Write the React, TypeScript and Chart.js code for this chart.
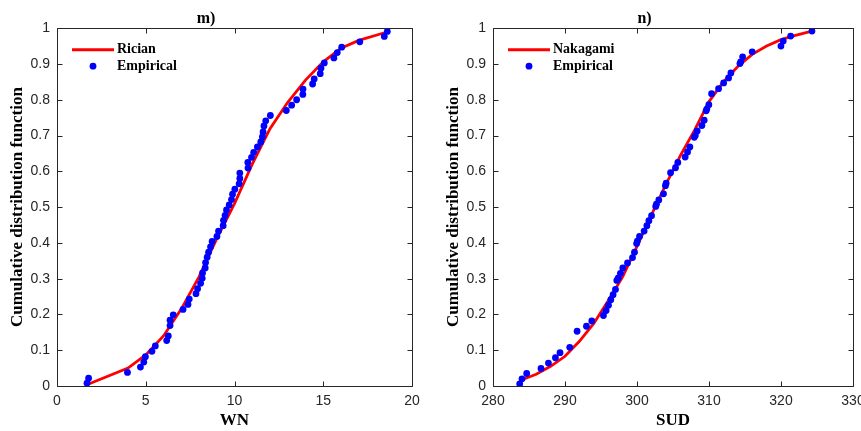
import React, { useEffect, useRef } from "react";
import { Chart, registerables } from "chart.js";
Chart.register(...registerables);

// ---- Panel m) : WN, Rician fit ----
const wnEmpX = [1.69, 1.78, 3.97, 4.70, 4.89, 4.98, 5.35, 5.54, 6.18, 6.27, 6.37, 6.37, 6.55, 7.10, 7.38, 7.45, 7.83, 7.92, 8.09, 8.18, 8.20, 8.35, 8.37, 8.46, 8.54, 8.65, 8.74, 9.01, 9.10, 9.36, 9.38, 9.47, 9.55, 9.70, 9.83, 9.89, 10.02, 10.26, 10.30, 10.30, 10.76, 10.75, 10.96, 11.08, 11.29, 11.48, 11.57, 11.61, 11.66, 11.76, 12.02, 12.92, 13.22, 13.50, 13.85, 13.86, 14.40, 14.49, 14.83, 14.87, 15.06, 15.60, 15.79, 16.04, 17.06, 18.44, 18.61];
const wnEmpY = [0.008, 0.022, 0.038, 0.053, 0.067, 0.082, 0.097, 0.112, 0.127, 0.140, 0.169, 0.184, 0.199, 0.214, 0.228, 0.243, 0.258, 0.272, 0.287, 0.301, 0.316, 0.330, 0.345, 0.360, 0.374, 0.389, 0.404, 0.418, 0.433, 0.448, 0.463, 0.477, 0.492, 0.506, 0.521, 0.536, 0.550, 0.565, 0.580, 0.595, 0.609, 0.625, 0.639, 0.653, 0.668, 0.682, 0.696, 0.710, 0.727, 0.741, 0.756, 0.770, 0.785, 0.800, 0.815, 0.830, 0.844, 0.858, 0.873, 0.888, 0.903, 0.917, 0.932, 0.947, 0.962, 0.977, 0.991];
const ricianX = [1.75, 4.0, 5.0, 6.0, 7.0, 8.0, 9.0, 10.0, 11.0, 12.0, 13.0, 14.0, 15.0, 16.0, 17.0, 18.5];
const ricianY = [0.005, 0.05, 0.087, 0.14, 0.215, 0.305, 0.412, 0.51, 0.62, 0.719, 0.793, 0.855, 0.906, 0.944, 0.966, 0.988];

// ---- Panel n) : SUD, Nakagami fit ----
const sudEmpX = [283.71, 284.03, 284.68, 286.67, 287.70, 288.67, 289.31, 290.66, 291.68, 292.98, 293.72, 295.34, 295.71, 296.04, 296.36, 296.68, 297.01, 297.20, 297.40, 297.70, 298.03, 298.68, 299.38, 299.65, 299.95, 300.05, 300.35, 300.99, 301.37, 301.65, 302.02, 302.60, 302.70, 303.03, 303.68, 303.95, 304.05, 304.66, 305.35, 305.67, 306.69, 307.02, 307.34, 307.95, 308.10, 308.36, 309.01, 309.33, 309.60, 309.70, 309.98, 310.36, 311.33, 312.03, 312.72, 313.04, 314.30, 314.40, 314.67, 316.00, 319.99, 320.31, 321.34, 324.30];
const sudEmpY = [0.006, 0.020, 0.035, 0.049, 0.064, 0.079, 0.093, 0.108, 0.153, 0.167, 0.182, 0.197, 0.211, 0.226, 0.241, 0.255, 0.270, 0.295, 0.302, 0.315, 0.330, 0.344, 0.359, 0.374, 0.398, 0.405, 0.418, 0.433, 0.448, 0.462, 0.476, 0.502, 0.508, 0.520, 0.537, 0.560, 0.567, 0.596, 0.610, 0.625, 0.640, 0.654, 0.668, 0.695, 0.700, 0.713, 0.728, 0.743, 0.769, 0.774, 0.786, 0.817, 0.831, 0.847, 0.861, 0.875, 0.901, 0.906, 0.920, 0.934, 0.950, 0.964, 0.978, 0.992];
const nakX = [284.1, 286, 288, 290, 292, 294, 296, 298, 300, 302, 304, 306, 308, 310, 312, 314, 316, 318, 320, 322, 324.3];
const nakY = [0.018, 0.033, 0.055, 0.083, 0.125, 0.175, 0.238, 0.305, 0.39, 0.478, 0.563, 0.643, 0.715, 0.795, 0.85, 0.893, 0.927, 0.95, 0.968, 0.98, 0.992];

const yTickLabels = ["0", "0.1", "0.2", "0.3", "0.4", "0.5", "0.6", "0.7", "0.8", "0.9", "1"];

const AXIS_COLOR = "#262626";
const SERIF = "'Liberation Serif', 'Times New Roman', serif";
const SANS = "'Liberation Sans', Arial, sans-serif";

const toPts = (xs: number[], ys: number[]) => xs.map((x, i) => ({ x, y: ys[i] }));

const boxPlugin = {
  id: "matlabBox",
  afterDatasetsDraw(chart: any) {
    const { ctx, chartArea: a, scales } = chart;
    const tl = 5;
    ctx.save();
    ctx.strokeStyle = AXIS_COLOR;
    ctx.lineWidth = 1;
    ctx.beginPath();
    const L = Math.round(a.left) + 0.5, R = Math.round(a.right) + 0.5;
    const T = Math.round(a.top) + 0.5, B = Math.round(a.bottom) + 0.5;
    ctx.rect(L, T, R - L, B - T);
    scales.x.ticks.forEach((_t: any, i: number) => {
      const px = Math.round(scales.x.getPixelForTick(i)) + 0.5;
      ctx.moveTo(px, B); ctx.lineTo(px, B - tl);
      ctx.moveTo(px, T); ctx.lineTo(px, T + tl);
    });
    scales.y.ticks.forEach((_t: any, i: number) => {
      const py = Math.round(scales.y.getPixelForTick(i)) + 0.5;
      ctx.moveTo(L, py); ctx.lineTo(L + tl, py);
      ctx.moveTo(R, py); ctx.lineTo(R - tl, py);
    });
    ctx.stroke();
    ctx.restore();
  },
};

const legendPlugin = {
  id: "insideLegend",
  afterDraw(chart: any) {
    const { ctx, chartArea: a } = chart;
    const ds = chart.data.datasets;
    const lineDs = ds[1];
    const dotDs = ds[0];
    ctx.save();
    const y1 = a.top + 21.5;
    const y2 = a.top + 38;
    ctx.strokeStyle = lineDs.borderColor;
    ctx.lineWidth = 3;
    ctx.beginPath();
    ctx.moveTo(a.left + 15, y1);
    ctx.lineTo(a.left + 57, y1);
    ctx.stroke();
    ctx.fillStyle = dotDs.backgroundColor;
    ctx.beginPath();
    ctx.arc(a.left + 36, y2, 3.4, 0, Math.PI * 2);
    ctx.fill();
    ctx.fillStyle = "#000";
    ctx.font = `bold 14px ${SERIF}`;
    ctx.textBaseline = "middle";
    ctx.textAlign = "left";
    ctx.fillText(lineDs.label, a.left + 60, y1);
    ctx.fillText(dotDs.label, a.left + 60, y2);
    ctx.restore();
  },
};

function makeConfig(
  title: string,
  xTitle: string,
  xMin: number,
  xMax: number,
  xStep: number,
  fitLabel: string,
  fitPts: any[],
  empPts: any[],
  padRight: number
): any {
  return {
    type: "scatter",
    data: {
      datasets: [
        {
          label: "Empirical",
          data: empPts,
          showLine: false,
          pointRadius: 3.4,
          pointHoverRadius: 3.4,
          backgroundColor: "#0000ff",
          borderColor: "#0000ff",
          borderWidth: 0,
        },
        {
          label: fitLabel,
          data: fitPts,
          showLine: true,
          pointRadius: 0,
          borderColor: "#ff0000",
          backgroundColor: "#ff0000",
          borderWidth: 2.8,
          tension: 0,
        },
      ],
    },
    options: {
      animation: false,
      responsive: false,
      layout: { padding: { left: 0, right: padRight, top: 0, bottom: 0 } },
      plugins: {
        legend: { display: false },
        tooltip: { enabled: false },
        title: {
          display: true,
          text: title,
          color: "#000",
          font: { family: SERIF, size: 16, weight: "bold" },
          padding: { top: 9, bottom: 0 },
        },
      },
      scales: {
        x: {
          type: "linear",
          min: xMin,
          max: xMax,
          grid: { display: false, drawTicks: false },
          border: { display: false },
          ticks: {
            stepSize: xStep,
            padding: 7,
            color: AXIS_COLOR,
            font: { family: SANS, size: 14 },
            maxRotation: 0,
          },
          title: {
            display: true,
            text: xTitle,
            color: "#000",
            font: { family: SERIF, size: 17, weight: "bold" },
            padding: { top: 0, bottom: 0 },
          },
          afterFit: (s: any) => {
            s.height = 45;
          },
        },
        y: {
          type: "linear",
          min: 0,
          max: 1,
          grid: { display: false, drawTicks: false },
          border: { display: false },
          ticks: {
            stepSize: 0.1,
            padding: 7,
            color: AXIS_COLOR,
            font: { family: SANS, size: 14 },
            callback: (_v: any, i: number) => yTickLabels[i],
          },
          title: {
            display: true,
            text: "Cumulative distribution function",
            color: "#000",
            font: { family: SERIF, size: 17, weight: "bold" },
            padding: { top: 7, bottom: 0 },
          },
          afterFit: (s: any) => {
            s.width = 57;
          },
        },
      },
    },
    plugins: [boxPlugin, legendPlugin],
  };
}

export default function App() {
  const leftRef = useRef<HTMLCanvasElement>(null);
  const rightRef = useRef<HTMLCanvasElement>(null);

  useEffect(() => {
    const c1 = new Chart(
      leftRef.current as HTMLCanvasElement,
      makeConfig("m)", "WN", 0, 20, 5, "Rician", toPts(ricianX, ricianY), toPts(wnEmpX, wnEmpY), 18)
    );
    const c2 = new Chart(
      rightRef.current as HTMLCanvasElement,
      makeConfig("n)", "SUD", 280, 330, 10, "Nakagami", toPts(nakX, nakY), toPts(sudEmpX, sudEmpY), 23)
    );
    return () => {
      c1.destroy();
      c2.destroy();
    };
  }, []);

  return (
    <div
      style={{
        position: "fixed",
        left: 0,
        top: 0,
        width: 861,
        height: 431,
        overflow: "hidden",
        background: "#fff",
      }}
    >
      <div style={{ position: "absolute", left: 0, top: 0, width: 430, height: 431 }}>
        <canvas ref={leftRef} width={430} height={431} style={{ width: 430, height: 431, display: "block" }} />
      </div>
      <div style={{ position: "absolute", left: 436, top: 0, width: 440, height: 431 }}>
        <canvas ref={rightRef} width={440} height={431} style={{ width: 440, height: 431, display: "block" }} />
      </div>
    </div>
  );
}
